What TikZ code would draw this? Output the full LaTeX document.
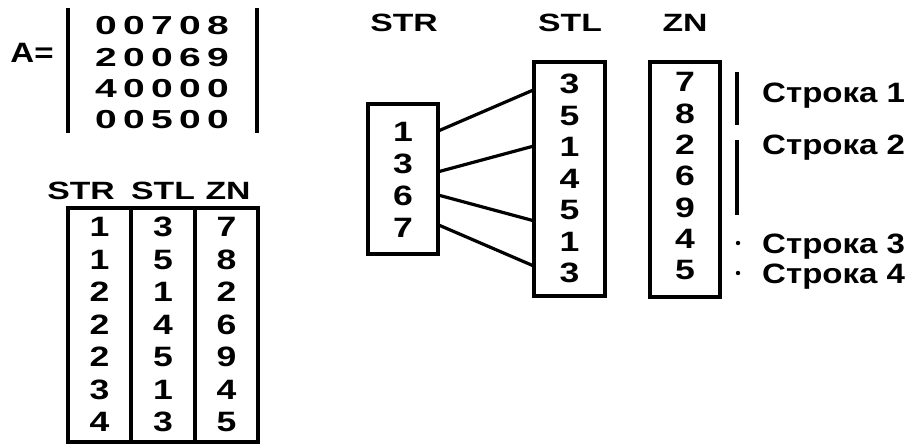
\documentclass[tikz,border=0pt]{standalone}
\usepackage{fontspec}
\setmainfont[UprightFont=* Bold]{Liberation Sans}
\newfontfamily\digf[FakeStretch=1.27,UprightFont=* Bold]{Liberation Sans}
\newfontfamily\matf[FakeStretch=1.5,UprightFont=* Bold]{Liberation Sans}
\newfontfamily\hdrf[FakeStretch=1.35,UprightFont=* Bold]{Liberation Sans}
\newfontfamily\labf[FakeStretch=1.18,UprightFont=* Bold]{Liberation Sans}
\usetikzlibrary{calc}
\begin{document}
\begin{tikzpicture}[x=1pt,y=-1pt,
  lw/.style={line width=3.2pt},
  dig/.style={inner sep=0pt,font=\digf\fontsize{28}{30}\selectfont},
  mdig/.style={inner sep=0pt,font=\matf\fontsize{26}{28}\selectfont},
  hdr/.style={inner sep=0pt,font=\hdrf\fontsize{25}{27}\selectfont},
  lab/.style={inner sep=0pt,anchor=base west,font=\labf\fontsize{28}{30}\selectfont},
  box/.style={draw,lw,inner sep=0pt}]
\useasboundingbox (0,0) rectangle (907,445);

% matrix A
\node[inner sep=0pt,font=\labf\fontsize{28}{30}\selectfont] (A) at (32,53) {A=};
\foreach \row [count=\i] in {{0,0,7,0,8},{2,0,0,6,9},{4,0,0,0,0},{0,0,5,0,0}}
  \foreach \v [count=\j] in \row
    \node[mdig] (m\i\j) at ({78+28*\j},{26+31.3*(\i-1)}) {\v};
\draw[lw] (68,8) -- (68,133);
\draw[lw] (257,8) -- (257,133);

% coordinate table
\node[hdr] (tstrh) at (81,191) {STR};
\node[hdr] (tstlh) at (163,191) {STL};
\node[hdr] (tznh) at (228,191) {ZN};
\node[box,minimum width=63pt,minimum height=234pt] (tstr) at (99.5,325) {};
\node[box,minimum width=64pt,minimum height=234pt] (tstl) at (163,325) {};
\node[box,minimum width=63pt,minimum height=234pt] (tzn) at (226.5,325) {};
\foreach \v [count=\k] in {1,1,2,2,2,3,4}
  \node[dig] (ta\k) at (99.5,{227+32.5*(\k-1)}) {\v};
\foreach \v [count=\k] in {3,5,1,4,5,1,3}
  \node[dig] (tb\k) at (163,{227+32.5*(\k-1)}) {\v};
\foreach \v [count=\k] in {7,8,2,6,9,4,5}
  \node[dig] (tc\k) at (226.5,{227+32.5*(\k-1)}) {\v};

% compressed row storage
\node[hdr] (rstrh) at (404,23) {STR};
\node[hdr] (rstlh) at (570,23) {STL};
\node[hdr] (rznh) at (685,23) {ZN};
\node[box,minimum width=70pt,minimum height=150pt] (rstr) at (403,179) {};
\node[box,minimum width=71pt,minimum height=234pt] (rstl) at (569.5,179) {};
\node[box,minimum width=70pt,minimum height=235pt] (rzn) at (685,179.5) {};
\foreach \v [count=\k] in {1,3,6,7}
  \node[dig] (ra\k) at (403,{132+32*(\k-1)}) {\v};
\foreach \v [count=\k] in {3,5,1,4,5,1,3}
  \node[dig] (rb\k) at (569.5,{84+31.5*(\k-1)}) {\v};
\foreach \v [count=\k] in {7,8,2,6,9,4,5}
  \node[dig] (rc\k) at (685,{82+31.4*(\k-1)}) {\v};

\draw[lw] ($(rstr.north east)+(0,28)$) -- ($(rstl.north west)+(0,30)$);
\draw[lw] ($(rstr.north east)+(0,69)$) -- ($(rstl.north west)+(0,86)$);
\draw[lw] ($(rstr.north east)+(0,93)$) -- ($(rstl.north west)+(0,160)$);
\draw[lw] ($(rstr.north east)+(0,123)$) -- ($(rstl.north west)+(0,205)$);

% row markers
\draw[lw] (737,72) -- (737,125);
\draw[lw] (737,140) -- (737,215);
\fill (738,243) circle (2.2);
\fill (738,273) circle (2.2);
\node[lab] (s1) at (762,102) {Строка 1};
\node[lab] (s2) at (762,154) {Строка 2};
\node[lab] (s3) at (762,253) {Строка 3};
\node[lab] (s4) at (762,283) {Строка 4};
\end{tikzpicture}
\end{document}
